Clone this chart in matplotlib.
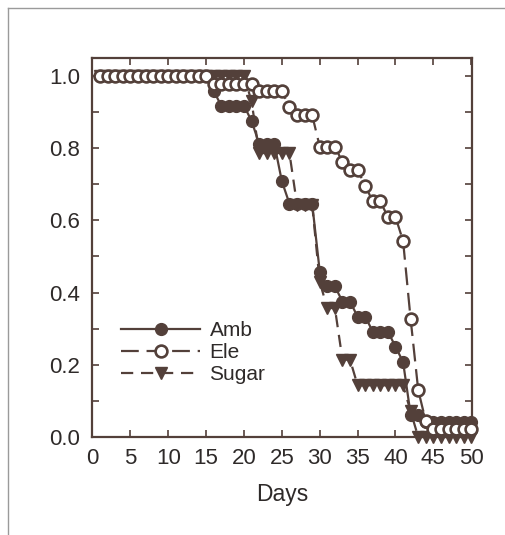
import matplotlib
matplotlib.use("Agg")
import matplotlib.pyplot as plt
from matplotlib.lines import Line2D

plt.rcParams['font.family'] = ['Liberation Sans', 'DejaVu Sans']

days = list(range(1, 51))
amb = ([1.0] * 15 + [0.958] + [0.917] * 4 + [0.875] + [0.812] * 3 + [0.708] +
       [0.646] * 4 + [0.458] + [0.417] * 2 + [0.375] * 2 + [0.333] * 2 +
       [0.292] * 3 + [0.25] + [0.208] + [0.062] * 2 + [0.042] * 7)
ele = ([1.0] * 15 + [0.978] * 6 + [0.957] * 4 + [0.913] + [0.891] * 3 +
       [0.804] * 3 + [0.761] + [0.739] * 2 + [0.696] + [0.652] * 2 +
       [0.609] * 2 + [0.543] + [0.326] + [0.13] + [0.043] + [0.022] * 6)
sugar = ([1.0] * 20 + [0.929] + [0.786] * 5 + [0.643] * 3 + [0.429] +
         [0.357] * 2 + [0.214] * 2 + [0.143] * 7 + [0.071] + [0.0] * 8)
labels = ["Amb", "Ele", "Sugar"]
xticks = [0, 5, 10, 15, 20, 25, 30, 35, 40, 45, 50]
yticks = [0.0, 0.2, 0.4, 0.6, 0.8, 1.0]

C = '#53403a'
TXT = '#2e2a29'

fig = plt.figure(figsize=(5.06, 5.35), dpi=100)
fig.patch.set_facecolor('white')

# scanned page border (top & left)
fig.add_artist(Line2D([8 / 506, 1], [1 - 8 / 535, 1 - 8 / 535], color='#9a9a9a', lw=1.0))
fig.add_artist(Line2D([8 / 506, 8 / 506], [0, 1 - 8 / 535], color='#9a9a9a', lw=1.0))

ax = fig.add_axes([92.5 / 506, 98 / 535, (472 - 92.5) / 506, (437 - 57.7) / 535])

ax.plot(days, amb, color=C, lw=1.6, marker='o', ms=8.5, mfc=C, mec=C,
        clip_on=False, zorder=4, label=labels[0])
ax.plot(days, ele, color=C, lw=1.6, ls=(0, (8, 3.5)), marker='o', ms=8.5, mfc='white',
        mec=C, mew=1.9, clip_on=False, zorder=5, label=labels[1])
ax.plot(days, sugar, color=C, lw=1.6, ls=(0, (5.5, 3.5)), marker='v', ms=9, mfc=C, mec=C,
        clip_on=False, zorder=3, label=labels[2])

ax.set_xlim(0, 50.1)
ax.set_ylim(0, 1.05)
ax.set_xticks(xticks)
ax.set_yticks(yticks)
ax.set_yticklabels([f"{v:.1f}" for v in yticks])
ax.set_yticks([0.1, 0.3, 0.5, 0.7, 0.9], minor=True)

for s in ax.spines.values():
    s.set_color(C)
    s.set_linewidth(1.6)

ax.tick_params(axis='both', which='both', direction='in', top=True, right=True,
               length=5, width=1.2, color=C, labelsize=16, labelcolor=TXT)
ax.tick_params(axis='x', pad=8)
ax.tick_params(axis='y', pad=9)

ax.set_xlabel("Days", fontsize=16.5, color=TXT, labelpad=10)

leg = ax.legend(loc='center left', bbox_to_anchor=(0.075, 0.222), frameon=False,
                fontsize=15, handlelength=3.8, handletextpad=0.45,
                labelspacing=0.15, numpoints=1, borderpad=0, borderaxespad=0)
for t in leg.get_texts():
    t.set_color(TXT)

fig.savefig("out.png", dpi=100, facecolor='white')
